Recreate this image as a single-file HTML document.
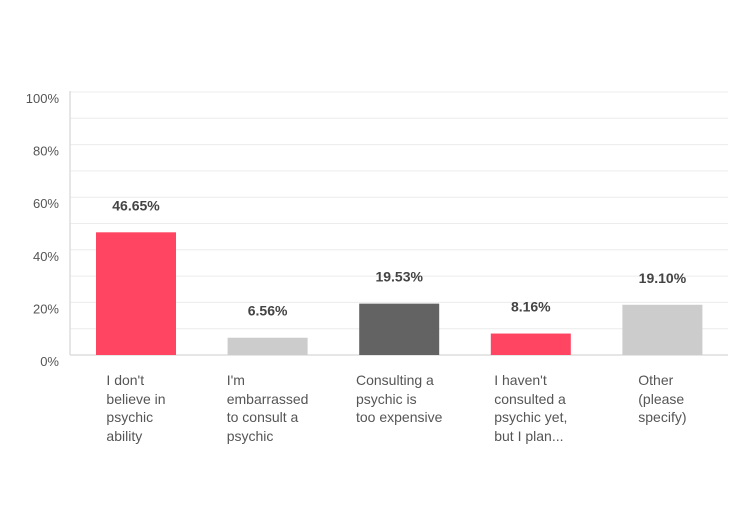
<!DOCTYPE html>
<html><head><meta charset="utf-8"><style>
body{margin:0;width:750px;height:515px;background:#fff;overflow:hidden;font-family:"Liberation Sans",sans-serif}
.cat{position:absolute;top:371px;width:160px;text-align:center}
.cat span{display:inline-block;text-align:left;font-size:14px;line-height:18.5px;color:#555}
</style></head><body>
<svg id="chart" width="750" height="515" style="position:absolute;left:0;top:0"></svg>
<div id="cats"></div>
<script>
const categories=[["I don't","believe in","psychic","ability"],["I'm","embarrassed","to consult a","psychic"],["Consulting a","psychic is","too expensive"],["I haven't","consulted a","psychic yet,","but I plan..."],["Other","(please","specify)"]];
const values=[46.65,6.56,19.53,8.16,19.10];
const colors=["#ff4562","#cccccc","#636363","#ff4562","#cccccc"];
const ticks=[0,20,40,60,80,100];
const svg=document.getElementById('chart');
const NS='http://www.w3.org/2000/svg';
const x0=70,x1=728,y0=355,yTop=92;
const y=v=>y0-(v/100)*(y0-yTop);
const step=131.6;
const bx=i=>96+i*step;
function mk(t,a){const e=document.createElementNS(NS,t);for(const k in a)e.setAttribute(k,a[k]);svg.appendChild(e);return e;}
for(let g=10;g<=100;g+=10){const l=mk('line',{x1:x0,x2:x1,y1:y(g),y2:y(g),stroke:'#ececec','stroke-width':1});

}
ticks.forEach(t=>{const e=mk('text',{x:59,y:y(t)+11,'text-anchor':'end','font-size':13,fill:'#555'});e.textContent=t+'%';

});
const ax=mk('line',{x1:x0,x2:x0,y1:yTop-1,y2:y0,stroke:'#ddd','stroke-width':1.5});


const bx2=mk('line',{x1:x0,x2:x1,y1:y0,y2:y0,stroke:'#ddd','stroke-width':1.5});


const cats=document.getElementById('cats');
values.forEach((v,i)=>{
const r=mk('rect',{x:bx(i),y:y(v),width:80,height:y0-y(v),fill:colors[i]});


const t=mk('text',{x:bx(i)+40,y:y(v)-22,'text-anchor':'middle','font-size':14,'font-weight':'bold',fill:'#444'});
t.textContent=v.toFixed(2)+'%';


const d=document.createElement('div');d.className='cat';d.style.left=(bx(i)+40-80)+'px';


d.innerHTML='<span>'+categories[i].join('<br>')+'</span>';cats.appendChild(d);
});
</script>
</body></html>
